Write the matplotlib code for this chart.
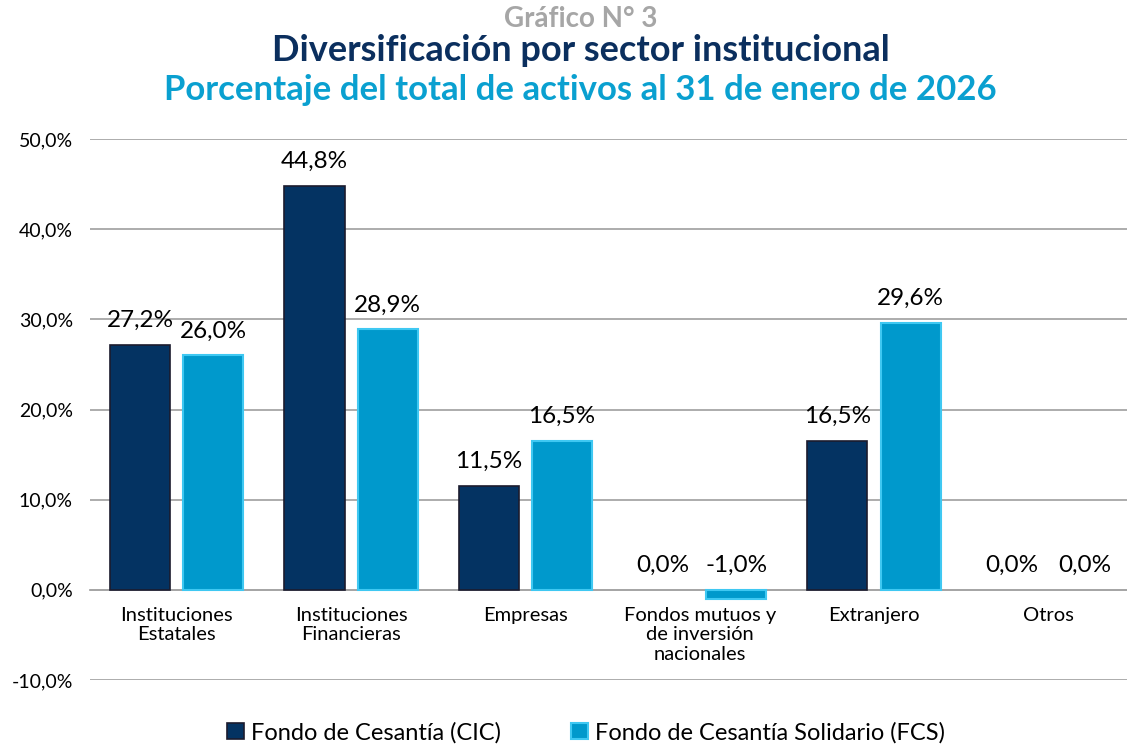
import numpy as np
import matplotlib.pyplot as plt

plt.rcParams['font.family'] = ['Lato', 'DejaVu Sans']

categories = ['Instituciones\nEstatales', 'Instituciones\nFinancieras', 'Empresas',
              'Fondos mutuos y\nde inversión\nnacionales', 'Extranjero', 'Otros']
cic = [27.2, 44.8, 11.5, 0.0, 16.5, 0.0]
fcs = [26.0, 28.9, 16.5, -1.0, 29.6, 0.0]
series_names = ['Fondo de Cesantía (CIC)', 'Fondo de Cesantía Solidario (FCS)']
yticks = [-10, 0, 10, 20, 30, 40, 50]

fig = plt.figure(figsize=(11.27, 7.46), dpi=100)
ax = fig.add_axes([0.0795, 0.0885, 0.928, 0.725])

x = np.arange(len(categories))
w = 0.345
b1 = ax.bar(x - 0.21, cic, w, color='#043362', edgecolor='#1b1b2e', linewidth=1.2,
            label=series_names[0], zorder=3)
b2 = ax.bar(x + 0.21, fcs, w, color='#0099cc', edgecolor='#3fc8f2', linewidth=1.5,
            label=series_names[1], zorder=3)

def fmt(v):
    return f'{v:.1f}%'.replace('.', ',')

for bars, vals in [(b1, cic), (b2, fcs)]:
    for rect, v in zip(bars, vals):
        if v == 0:
            rect.set_linewidth(0)
        ax.annotate(fmt(v), (rect.get_x() + rect.get_width() / 2, max(v, 0)),
                    xytext=(0, 10), textcoords='offset points',
                    ha='center', va='bottom', fontsize=17.5, color='black', zorder=4)

ax.set_xlim(-0.5, 5.5)
ax.set_ylim(-10, 50)
ax.set_yticks(yticks)
ax.set_yticklabels([fmt(v) for v in yticks])
ax.set_xticks(x)
ax.set_xticklabels(categories, linespacing=1.25)
ax.tick_params(axis='both', length=0, labelsize=14)
ax.tick_params(axis='x', pad=12, labelsize=14.5)
ax.tick_params(axis='y', pad=12)
ax.grid(axis='y', color='#a6a6a6', linewidth=1.3, zorder=0)
for s in ['top', 'right', 'left']:
    ax.spines[s].set_visible(False)
ax.spines['bottom'].set_position(('data', 0))
ax.spines['bottom'].set_color('#a6a6a6')
ax.spines['bottom'].set_linewidth(1.3)

fig.text(0.515, 0.975, 'Gráfico N° 3', ha='center', va='center', fontsize=20,
         fontweight='bold', color='#a6a6a6')
fig.text(0.515, 0.932, 'Diversificación por sector institucional', ha='center', va='center',
         fontsize=26, fontweight='bold', color='#0b2f5e')
fig.text(0.515, 0.88, 'Porcentaje del total de activos al 31 de enero de 2026', ha='center',
         va='center', fontsize=25, fontweight='bold', color='#0aa0d0')

fig.legend(handles=[b1, b2], loc='center', bbox_to_anchor=(0.52, 0.018), ncol=2,
           frameon=False, fontsize=17, handlelength=0.7, handleheight=0.7,
           handletextpad=0.3, columnspacing=3.0)

fig.savefig('out.png', dpi=100)
